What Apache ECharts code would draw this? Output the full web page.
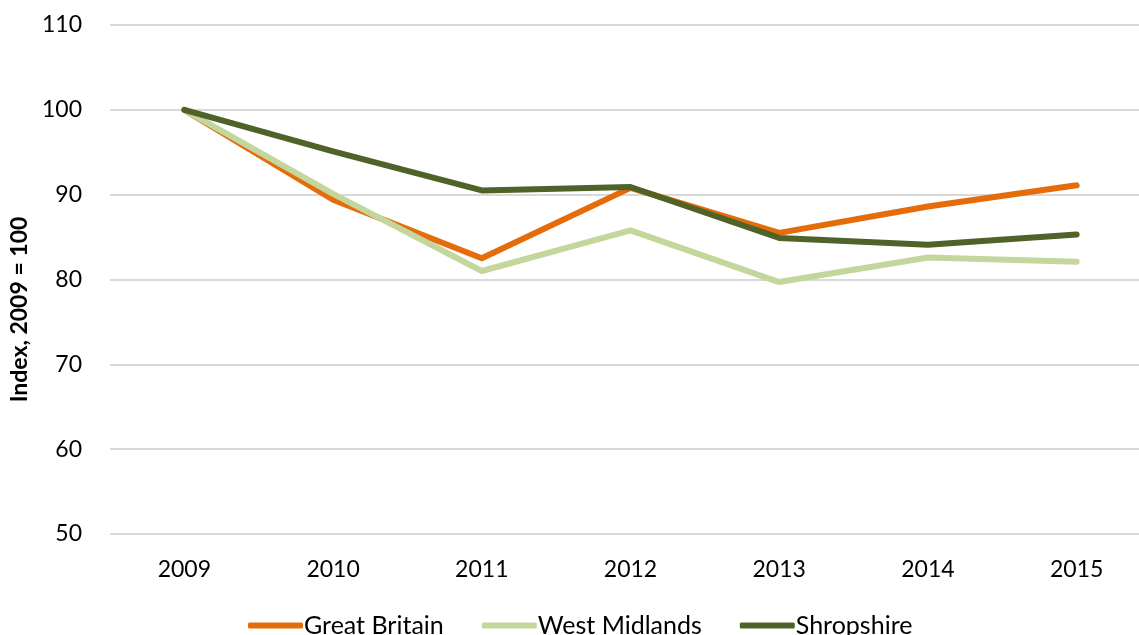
<!DOCTYPE html>
<html>
<head>
<meta charset="utf-8">
<script src="https://cdn.jsdelivr.net/npm/echarts@6/dist/echarts.min.js"></script>
<style>
  html, body { margin: 0; padding: 0; background: #fff; }
  #chart { width: 1139px; height: 635px; }
</style>
</head>
<body>
<div id="chart"></div>
<script>
const years = ['2009', '2010', '2011', '2012', '2013', '2014', '2015']
const greatBritain = [100, 89.4, 82.5, 90.8, 85.5, 88.6, 91.1]
const westMidlands = [100, 90.1, 81.0, 85.8, 79.7, 82.6, 82.1]
const shropshire = [100, 95.1, 90.5, 90.9, 84.9, 84.1, 85.3]

const font = 'Lato, "Open Sans", sans-serif'
const chart = echarts.init(document.getElementById('chart'))

const line = (name, data, color) => ({
  name,
  type: 'line',
  data,
  symbol: 'none',
  lineStyle: { color, width: 6, cap: 'round', join: 'round' },
  itemStyle: { color },
  z: 2
})

chart.setOption({
  animation: false,
  textStyle: { fontFamily: font },
  grid: { left: 110, top: 25, width: 1041, height: 509, outerBoundsMode: 'none', containLabel: false },
  legend: {
    top: 613,
    left: 248,
    padding: 0,
    icon: 'roundRect',
    itemWidth: 55,
    itemHeight: 6,
    itemGap: 38,
    itemStyle: { borderWidth: 0 },
    textStyle: { fontFamily: font, fontSize: 25, color: '#000', padding: [0, 0, 0, -4] },
    data: ['Great Britain', 'West Midlands', 'Shropshire']
  },
  xAxis: {
    type: 'category',
    data: years,
    boundaryGap: true,
    axisLine: { show: false },
    axisTick: { show: false },
    axisLabel: { color: '#000', fontSize: 23, margin: 24, fontFamily: font }
  },
  yAxis: {
    type: 'value',
    min: 50,
    max: 110,
    interval: 10,
    name: 'Index, 2009 = 100',
    nameLocation: 'middle',
    nameGap: 76,
    nameTextStyle: { fontSize: 23, fontWeight: 'bold', color: '#000', fontFamily: font, padding: [0, 60, 0, 0] },
    axisLine: { show: false },
    axisTick: { show: false },
    axisLabel: { color: '#000', fontSize: 23, margin: 28, fontFamily: font },
    splitLine: { lineStyle: { color: '#d9d9d9', width: 2 } }
  },
  series: [
    line('Great Britain', greatBritain, '#e46c0a'),
    line('West Midlands', westMidlands, '#c3d69b'),
    line('Shropshire', shropshire, '#4f6228')
  ]
})
</script>
</body>
</html>
